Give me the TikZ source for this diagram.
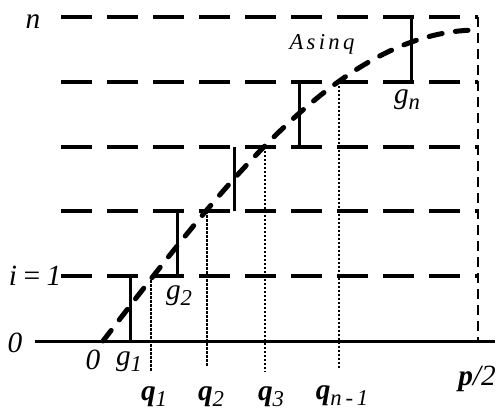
\documentclass[tikz,border=0pt]{standalone}
\usepackage{fontspec}
\setmainfont{Liberation Serif}
\newcommand{\lbl}[2]{#1\raisebox{-0.45ex}{\fontsize{17}{17}\selectfont #2}}

\begin{document}
\begin{tikzpicture}[x=0.75pt, y=-0.75pt,
    every node/.style={font=\fontsize{22}{24}\selectfont\itshape, inner sep=0pt}]
    \pgfmathdeclarefunction{f}{1}{\pgfmathparse{341-311*sin(((#1)-103)/375*90)}}
    \useasboundingbox (0,0) rectangle (499,411);
    \foreach \k in {1,...,5}
    {
        \draw[line width=3pt, dash pattern=on 23.25pt off 11.25pt] (61,{341-64.8*\k}) -- (478,{341-64.8*\k});
    }
    \draw[line width=1.5pt, dash pattern=on 7.5pt off 4.5pt] (478,17) -- (478,341);
    \draw[line width=2.25pt] (35,341) -- (495,341);
    \foreach \x/\k in {130/0, 177/1, 234/2, 299/3, 411/4}
    {
        \draw[line width=2.25pt] (\x,{341-64.8*\k}) -- (\x,{341-64.8*(\k+1)});
    }
    \foreach \x/\k/\e in {151/1/372, 207/2/367, 265/3/372, 339/4/369}
    {
        \draw[line width=0.9pt, dash pattern=on 2pt off 1pt] (\x,{341-64.8*\k}) -- (\x,\e);
    }
    \draw[line width=3.75pt, line cap=round, dash pattern=on 10pt off 10pt, smooth, domain=103:468, samples=100] plot (\x,{f(\x)});
    \node (n) at (33,22) {n};
    \node[font=\fontsize{17}{18}\selectfont\itshape] (asinq) at (322,44) {A\hspace{2.5pt}s\hspace{2.5pt}i\hspace{2.5pt}n\hspace{2.5pt}q};
    \node (gn) at (407,100) {\lbl{g}{n}};
    \node (ione) at (35,276) {i\,=\,1};
    \node (zerol) at (15,343) {0};
    \node (zerob) at (93,360) {0};
    \node (gone) at (129,362) {\lbl{g}{1}};
    \node (gtwo) at (179,296) {\lbl{g}{2}};
    \node (qone) at (154,397) {\lbl{\textbf{q}}{1}};
    \node (qtwo) at (211,397) {\lbl{\textbf{q}}{2}};
    \node (qthree) at (271,397) {\lbl{\textbf{q}}{3}};
    \node (qlast) at (342,396) {\lbl{\textbf{q}}{n\,-\,1}};
    \node (halfpi) at (477,379) {\textbf{p}/2};
\end{tikzpicture}
\end{document}
